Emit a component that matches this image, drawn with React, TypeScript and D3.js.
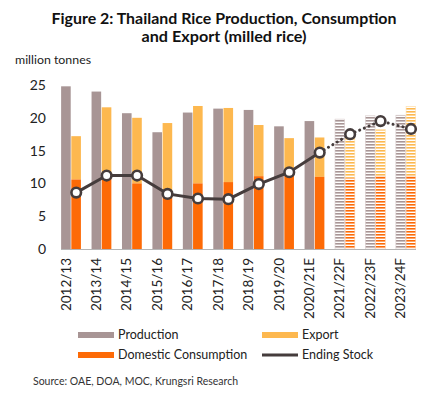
import React from "react";
import * as d3 from "d3";

const categories = ["2012/13", "2013/14", "2014/15", "2015/16", "2016/17", "2017/18", "2018/19", "2019/20", "2020/21E", "2021/22F", "2022/23F", "2023/24F"];
const production = [24.8, 24.0, 20.7, 17.8, 20.8, 21.4, 21.2, 18.7, 19.5, 19.8, 20.3, 20.4];
const consumption = [10.6, 10.8, 10.0, 8.5, 10.0, 10.2, 11.1, 11.2, 11.0, 10.8, 11.1, 11.1];
const exportVals = [6.6, 10.8, 10.0, 10.7, 11.8, 11.3, 7.8, 5.7, 6.0, 6.2, 7.1, 10.6];
const endingStock = [8.6, 11.2, 11.2, 8.4, 7.7, 7.6, 9.9, 11.7, 14.7, 17.5, 19.5, 18.3];
const yTicks = [0, 5, 10, 15, 20, 25];
const forecastFrom = 9;

const C_PROD = "#a89595";
const C_EXP = "#fdb84f";
const C_CONS = "#fd6a06";
const C_LINE = "#453c3c";
const FONT = "Lato, 'Open Sans', sans-serif";

export default function App() {
  const x = d3.scaleBand().domain(categories).range([55.8, 421]);
  const y = d3.scaleLinear().domain([0, 25]).range([249, 85]);
  const bw = x.bandwidth();
  const cx = (c: string) => (x(c) as number) + bw / 2;
  const barW = 9.6;

  // markers sit over the export bar
  const pts: [number, number][] = categories.map((c, i) => [cx(c) + 5.2, y(endingStock[i])]);
  const line = d3.line();
  const solid = line(pts.slice(0, forecastFrom));
  const dotted = line(pts.slice(forecastFrom - 1));

  const fill = (base: string, i: number, id: string) => (i >= forecastFrom ? `url(#${id})` : base);

  return (
    <svg width={435} height={395} style={{ position: "absolute", left: 0, top: 0, background: "#fff" }}>
      <defs>
        {[["pProd", C_PROD], ["pExp", C_EXP], ["pCons", C_CONS]].map(([id, col]) => (
          <pattern key={id} id={id} patternUnits="userSpaceOnUse" width={4} height={3}>
            <rect width={4} height={3} fill="#fff" />
            <rect width={4} height={1.6} fill={col} />
          </pattern>
        ))}
      </defs>
      <text x={224} y={24} textAnchor="middle" fontFamily={FONT} fontWeight="bold" fontSize={16} fill="#111"
        textLength={345} lengthAdjust="spacingAndGlyphs">
        Figure 2: Thailand Rice Production, Consumption
      </text>
      <text x={224} y={42} textAnchor="middle" fontFamily={FONT} fontWeight="bold" fontSize={16} fill="#111"
        textLength={165} lengthAdjust="spacingAndGlyphs">
        and Export (milled rice)
      </text>
      <text x={15} y={64} fontFamily={FONT} fontSize={12} fill="#222" textLength={76} lengthAdjust="spacingAndGlyphs">million tonnes</text>

      {yTicks.map((t) => (
        <text key={t} x={46} y={y(t)} dy="0.35em" textAnchor="end" fontFamily={FONT} fontSize={14} fill="#222">
          {t}
        </text>
      ))}

      {categories.map((c, i) => {
        const c0 = cx(c);
        const fc = i >= forecastFrom;
        return (
          <g key={c} strokeWidth={fc ? 0.6 : 0}>
            <rect x={c0 - barW - 0.3} y={y(production[i])} width={barW} height={y(0) - y(production[i])} fill={fill(C_PROD, i, "pProd")} stroke={fc ? "#d9cccc" : "none"} />
            <rect x={c0 + 0.3} y={y(consumption[i] + exportVals[i])} width={barW} height={y(consumption[i]) - y(consumption[i] + exportVals[i])} fill={fill(C_EXP, i, "pExp")} stroke={fc ? "#fde0b0" : "none"} />
            <rect x={c0 + 0.3} y={y(consumption[i])} width={barW} height={y(0) - y(consumption[i])} fill={fill(C_CONS, i, "pCons")} stroke={fc ? "#fdc7a0" : "none"} />
          </g>
        );
      })}

      <line x1={61} x2={416} y1={249.5} y2={249.5} stroke="#b5b5b5" strokeWidth={1} />

      {categories.map((c) => (
        <text key={c} transform={`translate(${cx(c) - 0.5},258) rotate(-90)`} textAnchor="end" fontFamily={FONT} fontSize={13.5} fill="#222">
          {c}
        </text>
      ))}

      <path d={solid || ""} fill="none" stroke={C_LINE} strokeWidth={3} />
      <path d={dotted || ""} fill="none" stroke={C_LINE} strokeWidth={3} strokeDasharray="0.1,5" strokeLinecap="round" />
      {pts.map((p, i) => (
        <circle key={i} cx={p[0]} cy={p[1]} r={4.8} fill="#fff" stroke={C_LINE} strokeWidth={2.6} />
      ))}

      <g fontFamily={FONT} fontSize={12.5} fill="#222">
        <rect x={78} y={332} width={36} height={6} fill={C_PROD} />
        <text x={118} y={339}>Production</text>
        <rect x={262} y={332} width={36} height={6} fill={C_EXP} />
        <text x={302} y={339}>Export</text>
        <rect x={78} y={352} width={36} height={6} fill={C_CONS} />
        <text x={118} y={359}>Domestic Consumption</text>
        <line x1={262} x2={298} y1={355} y2={355} stroke={C_LINE} strokeWidth={3} />
        <text x={302} y={359}>Ending Stock</text>
      </g>
      <text x={33} y={385} fontFamily={FONT} fontSize={10.5} fill="#333">Source: OAE, DOA, MOC, Krungsri Research</text>
    </svg>
  );
}
